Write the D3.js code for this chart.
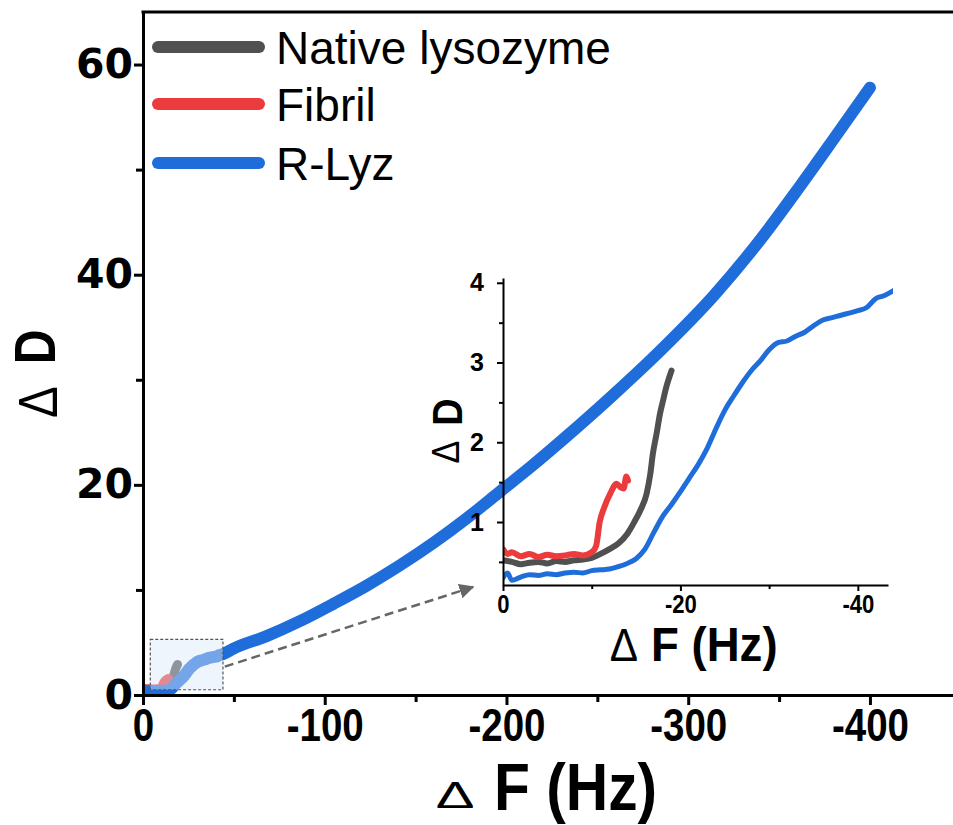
<!DOCTYPE html>
<html>
    <head>
        <style>
            body { margin: 0; background: #fff; }
            svg { font-family: 'Liberation Sans', Arial, sans-serif; }
            .axis path, .axis line { stroke: #000; }
            .line { fill: none; stroke-linejoin: round; stroke-linecap: round; }
        </style>
    </head>
    <body>
        <script src='https://cdn.jsdelivr.net/npm/d3@7/dist/d3.min.js'></script>
        <script>
            const width = 953, height = 825;

            // R-Lyz: ΔF (Hz), ΔD
            const rlyzF = [0, -0.5, -1, -2, -3, -4, -5, -6, -7, -8, -9, -10, -11, -12, -13, -14, -15, -16, -17, -18, -19, -20,
                -21, -22, -23, -24, -25, -26, -27, -28, -29, -30, -31, -32, -33, -34, -35, -36, -37, -38, -39, -40, -41, -42, -43, -44,
                -49.5, -68, -86, -105, -123, -141, -160, -178, -196, -214, -231, -259, -286, -314, -340, -361, -380, -400];
            const rlyzD = [0.30, 0.36, 0.27, 0.31, 0.34, 0.33, 0.35, 0.34, 0.36, 0.37, 0.36, 0.39, 0.40, 0.41, 0.44, 0.48, 0.54, 0.66, 0.87, 1.07, 1.22, 1.38,
                1.55, 1.72, 1.92, 2.17, 2.40, 2.58, 2.75, 2.90, 3.02, 3.16, 3.25, 3.27, 3.33, 3.38, 3.46, 3.53, 3.56, 3.59, 3.62, 3.65, 3.69, 3.80, 3.84, 3.90,
                4.4, 5.6, 7.0, 8.7, 10.4, 12.3, 14.5, 16.8, 19.3, 21.8, 24.3, 28.6, 33.0, 38.0, 43.4, 48.3, 52.9, 57.8];

            // Native lysozyme
            const nativeF = [0, -1, -2, -3, -4, -5, -6, -7, -8, -9, -10, -11, -12, -13, -14, -14.8, -15.5, -16.2, -16.6, -16.9, -17.3, -17.7, -18.1, -18.4, -18.7, -19.0];
            const nativeD = [0.52, 0.50, 0.47, 0.49, 0.50, 0.48, 0.51, 0.50, 0.52, 0.53, 0.55, 0.60, 0.66, 0.73, 0.85, 1.00, 1.15, 1.36, 1.60, 1.86, 2.10, 2.36, 2.55, 2.69, 2.80, 2.90];

            // Fibril
            const fibrilF = [0, -0.5, -1, -2, -3, -4, -5, -6, -7, -8, -9, -10, -10.5, -10.9, -11.4, -12.1, -12.8, -13.2, -13.6, -13.9, -14.1];
            const fibrilD = [0.66, 0.60, 0.62, 0.57, 0.60, 0.56, 0.59, 0.57, 0.58, 0.60, 0.58, 0.62, 0.70, 1.00, 1.18, 1.36, 1.48, 1.44, 1.42, 1.57, 1.52];

            const seriesNames = ['Native lysozyme', 'Fibril', 'R-Lyz'];
            const seriesColors = ['#505050', '#ec3b3c', '#1f6ddb'];

            const mainXTicks = [0, -100, -200, -300, -400], mainXMinor = [-50, -150, -250, -350];
            const mainYTicks = [0, 20, 40, 60], mainYMinor = [10, 30, 50];
            const insetXTicks = [0, -20, -40], insetXMinor = [-10, -30];
            const insetYTicks = [1, 2, 3, 4], insetYMinor = [0.5, 1.5, 2.5, 3.5];

            const zip = (f, d) => f.map((v, i) => [v, d[i]]);
            const series = [zip(nativeF, nativeD), zip(fibrilF, fibrilD), zip(rlyzF, rlyzD)];

            const svg = d3.select('body').append('svg')
                .attr('width', width).attr('height', height);

            const defs = svg.append('defs');
            defs.append('clipPath').attr('id', 'mainClip').append('rect')
                .attr('x', 143).attr('y', 12).attr('width', 810).attr('height', 683);
            defs.append('clipPath').attr('id', 'insetClip').append('rect')
                .attr('x', 503).attr('y', 270).attr('width', 390).attr('height', 315);
            defs.append('marker').attr('id', 'arrow')
                .attr('viewBox', '0 0 10 10').attr('refX', 9).attr('refY', 5)
                .attr('markerWidth', 6).attr('markerHeight', 6).attr('markerUnits', 'strokeWidth')
                .attr('orient', 'auto')
                .append('path').attr('d', 'M0,0L10,5L0,10Z').attr('fill', '#666');

            // main scales
            const x = d3.scaleLinear().domain([0, -445.7]).range([143, 953]);
            const y = d3.scaleLinear().domain([0, 65]).range([695, 12]);

            const line = d3.line().x(d => x(d[0])).y(d => y(d[1])).curve(d3.curveMonotoneX);

            const main = svg.append('g').attr('clip-path', 'url(#mainClip)');
            main.selectAll('path').data(series).enter().append('path')
                .attr('class', 'line')
                .attr('d', line)
                .attr('stroke', (_, i) => seriesColors[i])
                .attr('stroke-width', (_, i) => i === 2 ? 12 : 9);

            // zoom box
            svg.append('rect')
                .attr('x', x(-4)).attr('y', y(5.3))
                .attr('width', x(-44) - x(-4)).attr('height', y(0.5) - y(5.3))
                .attr('fill', '#dce9f8').attr('fill-opacity', 0.45)
                .attr('stroke', '#555').attr('stroke-width', 1.2).attr('stroke-dasharray', '3,2');

            // top frame
            svg.append('line').attr('x1', 141.5).attr('x2', 953).attr('y1', 12).attr('y2', 12)
                .attr('stroke', '#000').attr('stroke-width', 3);

            const xAxis = svg.append('g').attr('class', 'axis').attr('transform', 'translate(0,695)');
            xAxis.call(d3.axisBottom(x).tickValues(mainXTicks).tickSize(10).tickSizeOuter(0).tickPadding(3).tickFormat(d => String(d)));
            xAxis.select('.domain').attr('stroke-width', 3);
            xAxis.selectAll('.tick line').attr('stroke-width', 3);
            xAxis.selectAll('text').attr('font-size', 47).attr('font-weight', 'bold').attr('fill', '#000')
                .attr('transform', 'scale(0.82,1)');
            svg.append('g').attr('class', 'axis').attr('transform', 'translate(0,695)')
                .call(d3.axisBottom(x).tickValues(mainXMinor).tickSize(7).tickSizeOuter(0).tickFormat(''))
                .call(g => g.select('.domain').remove())
                .selectAll('.tick line').attr('stroke-width', 3);

            const yAxis = svg.append('g').attr('class', 'axis').attr('transform', 'translate(143,0)');
            yAxis.call(d3.axisLeft(y).tickValues(mainYTicks).tickSize(9).tickSizeOuter(0).tickPadding(1).tickFormat(d => String(d)));
            yAxis.select('.domain').attr('stroke-width', 3);
            yAxis.selectAll('.tick line').attr('stroke-width', 3);
            yAxis.selectAll('text').attr('font-size', 41).attr('font-weight', 'bold').attr('fill', '#000')
                .attr('font-family', "'DejaVu Sans', sans-serif");
            svg.append('g').attr('class', 'axis').attr('transform', 'translate(143,0)')
                .call(d3.axisLeft(y).tickValues(mainYMinor).tickSize(7).tickSizeOuter(0).tickFormat(''))
                .call(g => g.select('.domain').remove())
                .selectAll('.tick line').attr('stroke-width', 3);

            // axis titles: thin delta + condensed bold letters
            function title(deltaX, deltaY, deltaSize, deltaScale, textX, textY, textSize, label, squeeze, rotate) {
                const r = rotate ? ' rotate(-90)' : '';
                svg.append('text').attr('text-anchor', 'middle')
                    .attr('transform', `translate(${deltaX},${deltaY})${r} scale(${deltaScale})`)
                    .attr('font-size', deltaSize).text('Δ');
                svg.append('text').attr('text-anchor', rotate ? 'middle' : 'start')
                    .attr('transform', `translate(${textX},${textY})${r} scale(${squeeze},1)`)
                    .attr('font-size', textSize).attr('font-weight', 'bold').text(label);
            }
            title(455, 808, 58, '1,0.64', 494, 810, 66, 'F (Hz)', 0.89, false);
            title(57, 402, 56, '0.85,1', 55, 347, 58, 'D', 0.83, true);
            title(624, 661, 46, '0.92,1', 651, 661, 48, 'F (Hz)', 0.95, false);
            title(459, 452, 38, '0.9,1', 462, 412, 42, 'D', 0.9, true);

            // legend
            const legend = svg.append('g');
            const legendY = [47, 104, 163];
            seriesNames.forEach((name, i) => {
                legend.append('line')
                    .attr('x1', 158).attr('x2', 259).attr('y1', legendY[i]).attr('y2', legendY[i])
                    .attr('stroke', seriesColors[i]).attr('stroke-width', 12).attr('stroke-linecap', 'round');
                legend.append('text')
                    .attr('x', 276).attr('y', legendY[i]).attr('dy', '0.36em')
                    .attr('font-size', 46).text(name);
            });

            // arrow to inset
            svg.append('line')
                .attr('x1', x(-45)).attr('y1', y(2.7)).attr('x2', 473).attr('y2', 587)
                .attr('stroke', '#666').attr('stroke-width', 2.5).attr('stroke-dasharray', '9,5')
                .attr('marker-end', 'url(#arrow)');

            // inset
            const xi = d3.scaleLinear().domain([0, -43.4]).range([503, 888]);
            const yi = d3.scaleLinear().domain([0.21, 4.06]).range([585, 278]);
            const lineI = d3.line().x(d => xi(d[0])).y(d => yi(d[1])).curve(d3.curveMonotoneX);

            const inset = svg.append('g').attr('clip-path', 'url(#insetClip)');
            inset.selectAll('path').data([series[2], series[0], series[1]]).enter().append('path')
                .attr('class', 'line')
                .attr('d', lineI)
                .attr('stroke', (_, i) => [seriesColors[2], seriesColors[0], seriesColors[1]][i])
                .attr('stroke-width', (_, i) => i === 0 ? 5 : 6);

            const xiAxis = svg.append('g').attr('class', 'axis').attr('transform', 'translate(0,585)');
            xiAxis.call(d3.axisBottom(xi).tickValues(insetXTicks).tickSize(6).tickSizeOuter(0).tickPadding(4).tickFormat(d => String(d)));
            xiAxis.selectAll('path, line').attr('stroke-width', 2);
            xiAxis.selectAll('text').attr('font-size', 26).attr('font-weight', 'bold').attr('fill', '#000')
                .attr('transform', 'scale(0.85,1)');
            svg.append('g').attr('class', 'axis').attr('transform', 'translate(0,585)')
                .call(d3.axisBottom(xi).tickValues(insetXMinor).tickSize(4).tickSizeOuter(0).tickFormat(''))
                .call(g => g.select('.domain').remove())
                .selectAll('.tick line').attr('stroke-width', 2);

            const yiAxis = svg.append('g').attr('class', 'axis').attr('transform', 'translate(503,0)');
            yiAxis.call(d3.axisLeft(yi).tickValues(insetYTicks).tickSize(6).tickSizeOuter(0).tickPadding(13).tickFormat(d => String(d)));
            yiAxis.selectAll('path, line').attr('stroke-width', 2);
            yiAxis.selectAll('text').attr('font-size', 25).attr('font-weight', 'bold').attr('fill', '#000');
            svg.append('g').attr('class', 'axis').attr('transform', 'translate(503,0)')
                .call(d3.axisLeft(yi).tickValues(insetYMinor).tickSize(4).tickSizeOuter(0).tickFormat(''))
                .call(g => g.select('.domain').remove())
                .selectAll('.tick line').attr('stroke-width', 2);
        </script>
    </body>
</html>
